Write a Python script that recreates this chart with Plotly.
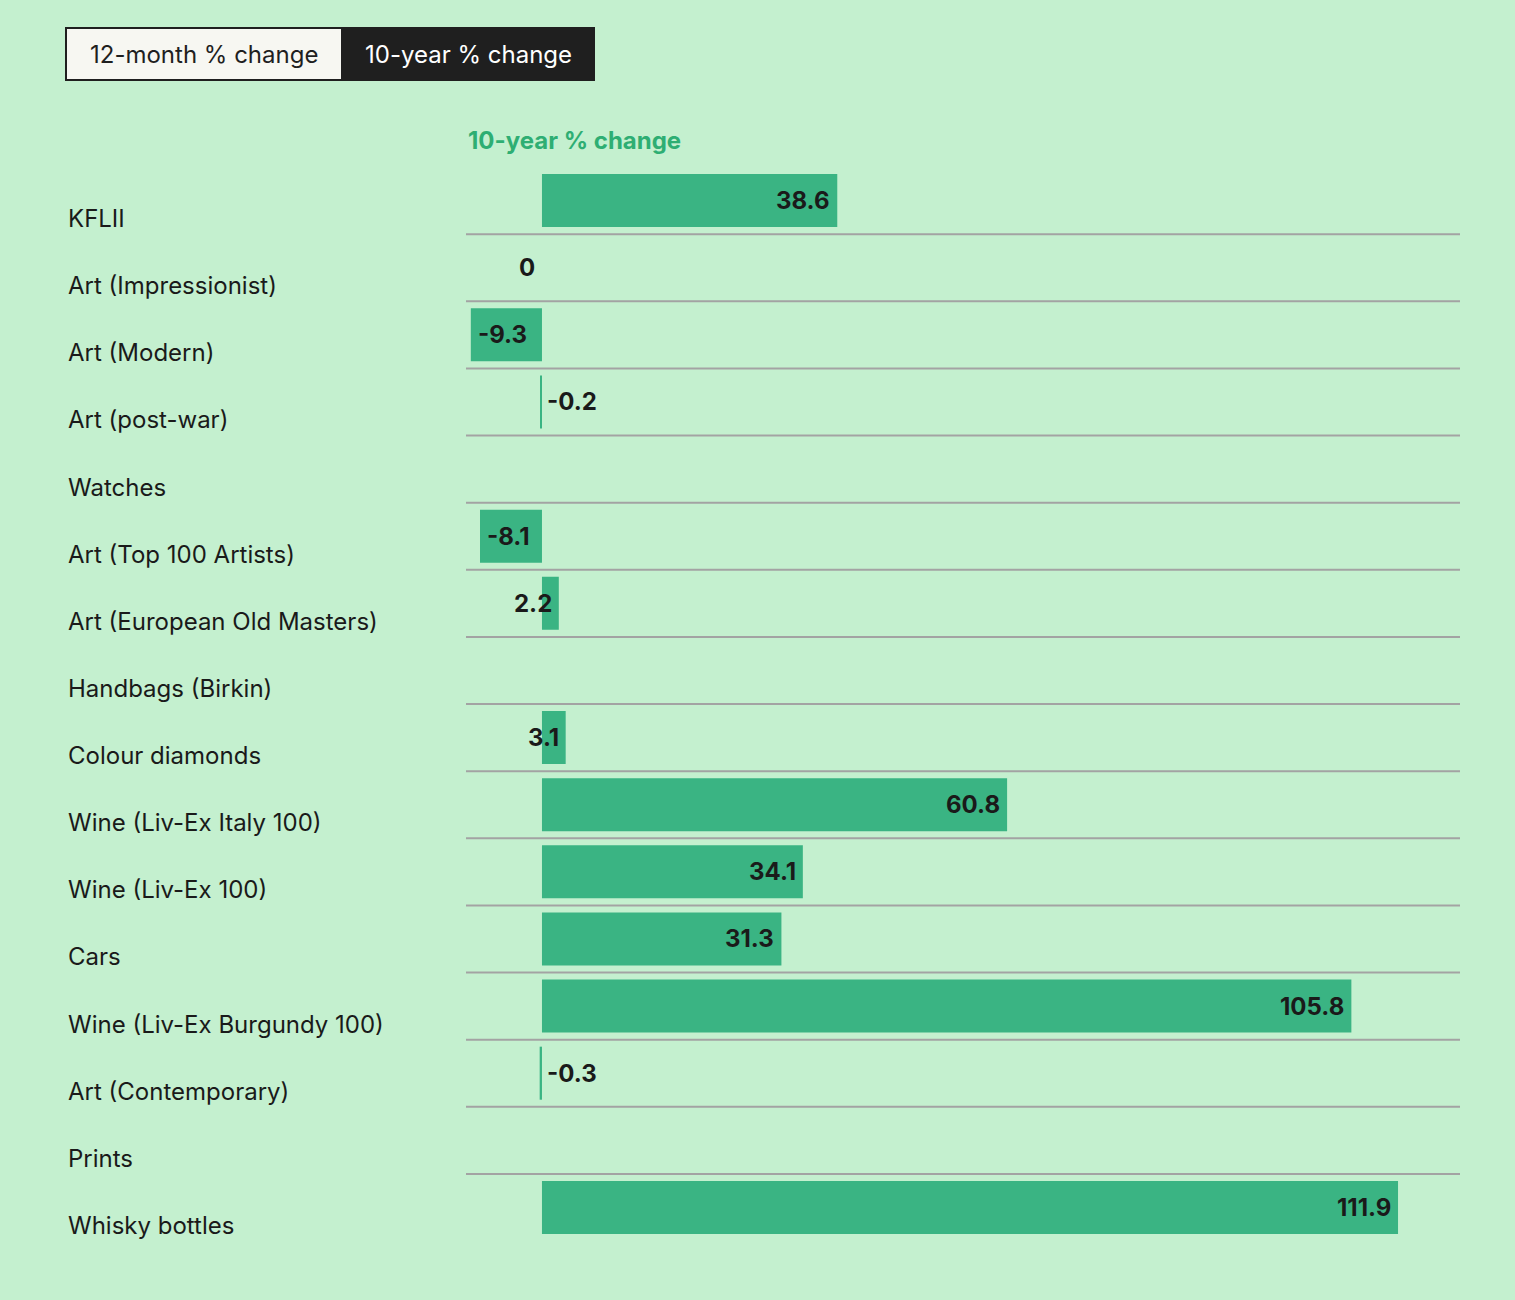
import plotly.graph_objects as go

categories = ["KFLII", "Art (Impressionist)", "Art (Modern)", "Art (post-war)", "Watches",
              "Art (Top 100 Artists)", "Art (European Old Masters)", "Handbags (Birkin)",
              "Colour diamonds", "Wine (Liv-Ex Italy 100)", "Wine (Liv-Ex 100)", "Cars",
              "Wine (Liv-Ex Burgundy 100)", "Art (Contemporary)", "Prints", "Whisky bottles"]
values = [38.6, 0, -9.3, -0.2, None, -8.1, 2.2, None, 3.1, 60.8, 34.1, 31.3, 105.8, -0.3, None, 111.9]
labels = ["38.6", "0", "-9.3", "-0.2", "", "-8.1", "2.2", "", "3.1", "60.8", "34.1", "31.3", "105.8", "-0.3", "", "111.9"]

W, H = 1515, 1300
L, R, T, B = 466, 1460, 167, 1241
def xp(px): return (px - L) / (R - L)
def yp(py): return (B - py) / (B - T)

n = len(categories)
ypos = list(range(n))
green = "#3ab483"
fnt = "Inter"
fig = go.Figure(go.Bar(x=[v if v is not None else 0 for v in values], y=ypos, orientation="h",
                       width=0.79, marker=dict(color=green, line=dict(width=0)), hoverinfo="skip"))

ann, shapes = [], []
for i, (c, v, t) in enumerate(zip(categories, values, labels)):
    ann.append(dict(x=xp(66), xref="paper", y=i, yref="y", text=c, showarrow=False,
                    xanchor="left", yshift=-18, font=dict(size=24, color="#1a1a1a", family=fnt)))
    if v is not None:
        if v >= 0:
            ann.append(dict(x=v, y=i, text=f"<b>{t}</b>", showarrow=False, xanchor="right", xshift=-5,
                            font=dict(size=24, color="#1a1a1a", family=fnt)))
        else:
            ann.append(dict(x=v, y=i, text=f"<b>{t}</b>", showarrow=False, xanchor="left", xshift=5,
                            font=dict(size=24, color="#1a1a1a", family=fnt)))
    if i < n - 1:
        shapes.append(dict(type="line", xref="paper", x0=0, x1=1, yref="y", y0=i + 0.5, y1=i + 0.5,
                           line=dict(color="#a3a3a3", width=2)))

ann.append(dict(x=0, xref="paper", y=yp(140), yref="paper", text="<b>10-year % change</b>", showarrow=False,
                xanchor="left", yanchor="middle", font=dict(size=24, color="#2eae73", family=fnt)))
shapes.append(dict(type="rect", xref="paper", yref="paper", x0=xp(66), x1=xp(342), y0=yp(80), y1=yp(28),
                   fillcolor="#f7f7f2", line=dict(color="#1f1f1f", width=2)))
shapes.append(dict(type="rect", xref="paper", yref="paper", x0=xp(342), x1=xp(594), y0=yp(80), y1=yp(28),
                   fillcolor="#1f1f1f", line=dict(color="#1f1f1f", width=2)))
ann.append(dict(x=xp(204), xref="paper", y=yp(54), yref="paper", text="12-month % change", showarrow=False,
                xanchor="center", yanchor="middle", font=dict(size=24, color="#1f1f1f", family=fnt)))
ann.append(dict(x=xp(468), xref="paper", y=yp(54), yref="paper", text="10-year % change", showarrow=False,
                xanchor="center", yanchor="middle", font=dict(size=24, color="#ffffff", family=fnt)))

fig.update_layout(width=W, height=H, margin=dict(l=L, r=W - R, t=T, b=H - B),
                  paper_bgcolor="#c4f0cf", plot_bgcolor="#c4f0cf", showlegend=False,
                  annotations=ann, shapes=shapes,
                  xaxis=dict(range=[-9.93, 120], visible=False, fixedrange=True),
                  yaxis=dict(range=[n - 0.5, -0.5], visible=False, fixedrange=True))
fig.write_html("out.html", config={"displayModeBar": False},
               post_script="document.body.style.margin='0';document.body.style.background='#c4f0cf';")
